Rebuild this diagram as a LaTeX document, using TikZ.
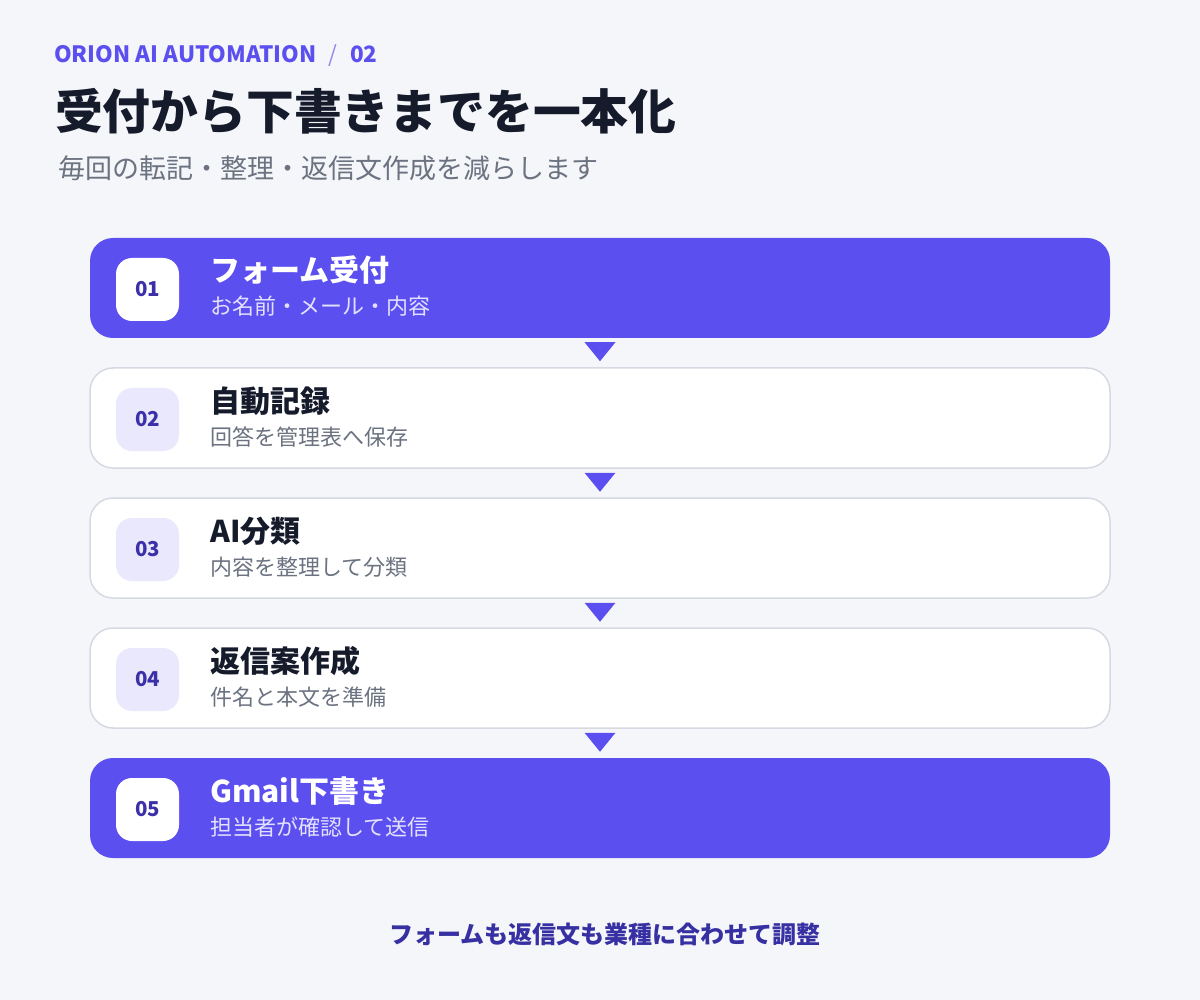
\documentclass[tikz,border=0pt]{standalone}
\usepackage{fontspec}
\setmainfont{Noto Sans CJK JP}
\usetikzlibrary{calc}
\definecolor{bgc}{HTML}{F5F6FA}
\definecolor{pur}{HTML}{5B4FEF}
\definecolor{slashc}{HTML}{8E86EE}
\definecolor{bordc}{HTML}{D6D9E2}
\definecolor{badgel}{HTML}{E9E8FD}
\definecolor{numc}{HTML}{3B30A8}
\definecolor{darkc}{HTML}{151B2B}
\definecolor{grayc}{HTML}{6B7280}
\definecolor{lightsub}{HTML}{E3E1FF}
\definecolor{bottomc}{HTML}{3730A3}
\begin{document}
\begin{tikzpicture}[x=1pt,y=-1pt,
  stepbox/.style={rectangle, rounded corners=23pt, minimum width=1020pt, minimum height=100pt, inner sep=0pt},
  purbox/.style={stepbox, fill=pur},
  whitebox/.style={stepbox, fill=white, draw=bordc, line width=1.5pt},
  badge/.style={rectangle, rounded corners=16pt, minimum width=63pt, minimum height=63pt, inner sep=0pt, font=\fontsize{20.5}{20.5}\selectfont\bfseries, text=numc},
  badgew/.style={badge, fill=white},
  badgel/.style={badge, fill=badgel},
  sttitle/.style={anchor=base west, inner sep=0pt, font=\fontsize{30}{30}\selectfont\bfseries},
  stsub/.style={anchor=base west, inner sep=0pt, font=\fontsize{22}{22}\selectfont},
  tri/.style={fill=pur}
]
\fill[bgc] (0,0) rectangle (1200,1000);
\useasboundingbox (0,0) rectangle (1200,1000);

% header
\node[anchor=base west, inner sep=0pt, text=pur, font=\fontsize{22.5}{22.5}\selectfont\bfseries] (hdr) at (54,63) {ORION AI AUTOMATION\hspace{12pt}{\mdseries\color{slashc}/}\hspace{13pt}02};
\node[anchor=base west, inner sep=0pt, text=darkc, font=\fontsize{47.8}{47.8}\selectfont\bfseries] (ttl) at (55,130) {受付から下書きまでを一本化};
\node[anchor=base west, inner sep=0pt, text=grayc, font=\fontsize{27}{27}\selectfont] (sub) at (58,179) {毎回の転記・整理・返信文作成を減らします};

% steps
\node[purbox] (b1) at (600,288) {};
\node[whitebox] (b2) at (600,418) {};
\node[whitebox] (b3) at (600,548) {};
\node[whitebox] (b4) at (600,678) {};
\node[purbox] (b5) at (600,808) {};

\node[badgew] (n1) at (147.5,289.5) {01};
\node[badgel] (n2) at (147.5,419.5) {02};
\node[badgel] (n3) at (147.5,549.5) {03};
\node[badgel] (n4) at (147.5,679.5) {04};
\node[badgew] (n5) at (147.5,809.5) {05};

\node[sttitle, text=white] (t1) at (210,282) {フォーム受付};
\node[stsub, text=lightsub] (s1) at (210,315) {お名前・メール・内容};
\node[sttitle, text=darkc] (t2) at (210,412) {自動記録};
\node[stsub, text=grayc] (s2) at (210,445) {回答を管理表へ保存};
\node[sttitle, text=darkc] (t3) at (210,542) {AI分類};
\node[stsub, text=grayc] (s3) at (210,575) {内容を整理して分類};
\node[sttitle, text=darkc] (t4) at (210,672) {返信案作成};
\node[stsub, text=grayc] (s4) at (210,705) {件名と本文を準備};
\node[sttitle, text=white] (t5) at (210,802) {Gmail下書き};
\node[stsub, text=lightsub] (s5) at (210,835) {担当者が確認して送信};

% arrows
\foreach \a/\b in {b1/b2,b2/b3,b3/b4,b4/b5}{
  \fill[tri] ($(\a.south)+(-15.5,4)$) -- ($(\a.south)+(15.5,4)$) -- ($(\a.south)+(0,23)$) -- cycle;
}

\node[inner sep=0pt, text=bottomc, font=\fontsize{24}{24}\selectfont\bfseries] (foot) at (605,934) {フォームも返信文も業種に合わせて調整};
\end{tikzpicture}
\end{document}
